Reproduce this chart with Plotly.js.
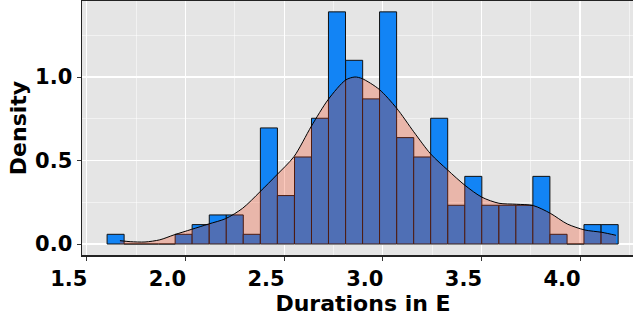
<!DOCTYPE html>
<html>
<head>
<meta charset="utf-8">
<script src="https://cdn.plot.ly/plotly-3.0.1.min.js"></script>
<style>
  html, body { margin: 0; padding: 0; overflow: hidden; background: #ffffff; }
  #chart { width: 650px; height: 318px; }
</style>
</head>
<body>
<div id="chart"></div>
<script>
// Histogram bin centres (30 bins) and their densities
const binCenters = [1.646, 1.732, 1.818, 1.905, 1.991, 2.077, 2.164, 2.250, 2.336, 2.423,
                    2.509, 2.596, 2.682, 2.768, 2.855, 2.941, 3.027, 3.114, 3.200, 3.286,
                    3.373, 3.459, 3.545, 3.632, 3.718, 3.804, 3.891, 3.977, 4.063, 4.150];
const binDensity = [0.058, 0, 0, 0, 0.058, 0.116, 0.174, 0.174, 0.058, 0.695,
                    0.290, 0.521, 0.753, 1.390, 1.100, 0.869, 1.390, 0.637, 0.521, 0.753,
                    0.232, 0.405, 0.232, 0.232, 0.232, 0.405, 0.058, 0, 0.116, 0.116];
const binWidth = 0.08636;

// Kernel density curve
const densX = [1.668, 1.720, 1.795, 1.870, 1.943, 2.032, 2.118, 2.204, 2.290, 2.378,
               2.462, 2.550, 2.638, 2.724, 2.812, 2.859, 2.896, 2.982, 3.071, 3.157,
               3.243, 3.329, 3.417, 3.503, 3.589, 3.677, 3.763, 3.849, 3.935, 4.024,
               4.110, 4.182];
const densY = [0.020, 0.014, 0.012, 0.025, 0.055, 0.088, 0.120, 0.152, 0.214, 0.313,
               0.413, 0.523, 0.705, 0.866, 0.982, 1.000, 0.990, 0.926, 0.812, 0.672,
               0.539, 0.443, 0.351, 0.280, 0.244, 0.238, 0.230, 0.184, 0.120, 0.084,
               0.070, 0.052];

const xTicks = [1.5, 2.0, 2.5, 3.0, 3.5, 4.0];
const xTickText = ["1.5", "2.0", "2.5", "3.0", "3.5", "4.0"];
const yTicks = [0, 0.5, 1.0];
const yTickText = ["0.0", "0.5", "1.0"];

const FONT = "DejaVu Sans, Liberation Sans, Arial, sans-serif";

const bars = {
  type: "bar",
  x: binCenters,
  y: binDensity,
  width: binCenters.map(() => binWidth),
  marker: { color: "#1284F5", line: { color: "#111111", width: 1 } },
  hoverinfo: "skip",
  showlegend: false
};

const dens = {
  type: "scatter",
  mode: "lines",
  x: densX,
  y: densY,
  fill: "tozeroy",
  fillcolor: "rgba(245,55,10,0.27)",
  line: { color: "#000000", width: 1, shape: "spline", smoothing: 0.8 },
  hoverinfo: "skip",
  showlegend: false
};

const layout = {
  width: 650,
  height: 318,
  margin: { l: 82, r: 6, t: 1, b: 63, pad: 0 },
  paper_bgcolor: "#ffffff",
  plot_bgcolor: "#E5E5E5",
  bargap: 0,
  xaxis: {
    range: [1.4757, 4.3241],
    tickvals: xTicks,
    ticktext: xTickText,
    ticks: "outside",
    ticklen: 4,
    tickwidth: 1,
    tickcolor: "#333333",
    tickfont: { family: FONT, size: 21, color: "#000000", weight: "bold" },
    ticklabelshift: -18,
    showgrid: true,
    gridcolor: "#ffffff",
    gridwidth: 1.1,
    minor: { dtick: 0.25, tick0: 1.5, showgrid: true, gridcolor: "#ffffff", gridwidth: 0.5, ticklen: 0 },
    zeroline: false,
    showline: true,
    mirror: true,
    linecolor: "#222222",
    linewidth: 1.5,
    title: { text: "Durations in E", font: { family: FONT, size: 22, color: "#000000", weight: "bold" }, standoff: 6 }
  },
  yaxis: {
    range: [-0.0659, 1.4551],
    tickvals: yTicks,
    ticktext: yTickText,
    ticks: "outside",
    ticklen: 4,
    tickwidth: 1,
    tickcolor: "#333333",
    tickfont: { family: FONT, size: 21, color: "#000000", weight: "bold" },
    showgrid: true,
    gridcolor: "#ffffff",
    gridwidth: 1.1,
    minor: { dtick: 0.25, tick0: 0, showgrid: true, gridcolor: "#ffffff", gridwidth: 0.5, ticklen: 0 },
    zeroline: false,
    showline: true,
    mirror: true,
    linecolor: "#222222",
    linewidth: 1.5,
    title: { text: "Density", font: { family: FONT, size: 22, color: "#000000", weight: "bold" }, standoff: 2 }
  }
};

Plotly.newPlot("chart", [bars, dens], layout, { staticPlot: true, displayModeBar: false });
</script>
</body>
</html>
